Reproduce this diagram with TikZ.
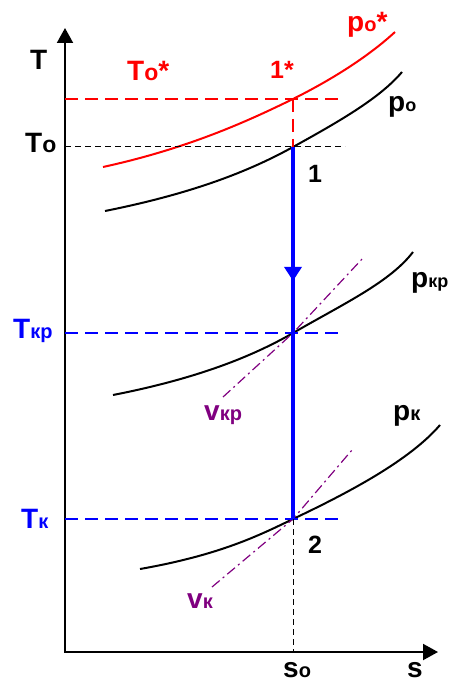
\documentclass[tikz,border=0pt]{standalone}
\usepackage{fontspec}
\setmainfont{Liberation Sans}
\usetikzlibrary{arrows.meta,decorations.markings}
\definecolor{isored}{RGB}{255,0,0}
\definecolor{isoblue}{RGB}{0,0,255}
\definecolor{isoviolet}{RGB}{128,0,128}
\newcommand{\subt}[1]{{\fontsize{20}{20}\selectfont #1}}

\begin{document}
\begin{tikzpicture}[x=1pt,y=-1pt,
  lbl/.style={font=\fontsize{28}{30}\selectfont\bfseries, inner sep=0pt, anchor=base west},
  num/.style={lbl, font=\fontsize{25}{28}\selectfont\bfseries},
  axis/.style={line width=2pt, {Triangle[length=15pt,width=16pt]}-{Triangle[length=15pt,width=16pt]}},
  curve/.style={line width=2pt},
  guide/.style={line width=1.3pt, dash pattern=on 13pt off 7pt},
  proj/.style={line width=1pt, dash pattern=on 6pt off 4pt},
  isochore/.style={line width=1.2pt, isoviolet, dash pattern=on 10pt off 4pt on 2pt off 4pt},
  flow/.style={line width=4pt, isoblue, postaction={decorate},
    decoration={markings, mark=at position 0.36 with {\arrow{Triangle[length=14pt,width=17pt]}}}}
]
  \useasboundingbox (0,0) rectangle (451,684);

  % axes
  \coordinate (O) at (65,652);
  \coordinate (Ttip) at (65,28);
  \coordinate (stip) at (438,652);
  \draw[axis] (Ttip) -- (O) -- (stip);

  % state points
  \coordinate (p1s) at (293,99);
  \coordinate (p1) at (293,147);
  \coordinate (pkr) at (293,333);
  \coordinate (p2) at (293,519);
  \coordinate (ge) at (345,0);

  % isobars
  \draw[curve, isored] (103,167) .. controls (190,148) and (250,120) .. (p1s)
    .. controls (335,78) and (370,55) .. (395,32);
  \draw[curve] (105,211) .. controls (200,192) and (255,168) .. (p1)
    .. controls (340,121) and (380,98) .. (402,72);
  \draw[curve] (113,395) .. controls (200,378) and (255,355) .. (pkr)
    .. controls (345,303) and (390,282) .. (413,252);
  \draw[curve] (140,569) .. controls (220,555) and (260,535) .. (p2)
    .. controls (350,492) and (410,460) .. (440,425);

  % isochores
  \draw[isochore] (223,397) -- (pkr) -- (363,258);
  \draw[isochore] (212,587) -- (p2) -- (352,450);

  % guide lines
  \draw[guide, isored] (O |- p1s) -- (p1s -| ge);
  \draw[guide, isored] (p1s) -- (p1);
  \draw[proj] (O |- p1) -- (p1 -| ge);
  \draw[guide, isoblue] (O |- pkr) -- (pkr -| ge);
  \draw[guide, isoblue] (O |- p2) -- (p2 -| ge);
  \draw[proj] (p2) -- (p2 |- O);

  % expansion
  \draw[flow] (p1) -- (p2);

  % labels
  \node[lbl] (labT) at (30,70) {T};
  \node[lbl] (labTo) at (25,153) {T{\fontsize{23}{23}\selectfont o}};
  \node[lbl, isoblue] (labTkr) at (13,338) {T\subt{кр}};
  \node[lbl, isoblue] (labTk) at (21,528) {T\subt{к}};
  \node[lbl, isored] (labTos) at (127,81) {T{\fontsize{23}{23}\selectfont o}*};
  \node[num, isored] (lab1s) at (270,79) {1*};
  \node[lbl, isored] (labpos) at (347,32) {p\subt{o}*};
  \node[lbl] (labpo) at (388,112) {p{\fontsize{18}{18}\selectfont o}};
  \node[num] (lab1) at (308,183) {1};
  \node[lbl] (labpkr) at (411,287) {p{\fontsize{18}{18}\selectfont кр}};
  \node[lbl, isoviolet] (labvkr) at (204,420) {v\subt{кр}};
  \node[lbl] (labpk) at (393,420) {p\subt{к}};
  \node[num] (lab2) at (308,553) {2};
  \node[lbl, isoviolet] (labvk) at (187,608) {v\subt{к}};
  \node[lbl] (labso) at (283,677) {s\subt{o}};
  \node[lbl] (labs) at (407,677) {s};
\end{tikzpicture}
\end{document}
